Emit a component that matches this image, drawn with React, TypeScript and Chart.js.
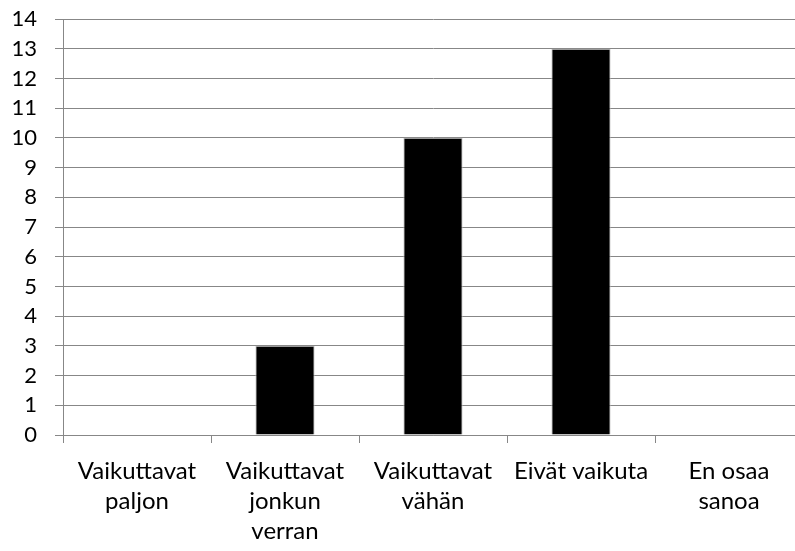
import React, { useEffect, useRef } from "react";
import { Chart, registerables } from "chart.js";

Chart.register(...registerables);

const categories: string[][] = [
  ["Vaikuttavat", "paljon"],
  ["Vaikuttavat", "jonkun", "verran"],
  ["Vaikuttavat", "vähän"],
  ["Eivät vaikuta"],
  ["En osaa", "sanoa"],
];
const values: number[] = [0, 3, 10, 13, 0];
const yMin = 0;
const yMax = 14;
const yStep = 1;

const FONT = "Lato, 'Open Sans', sans-serif";
const GRID = "#878787";

export default function App() {
  const ref = useRef<HTMLCanvasElement | null>(null);
  useEffect(() => {
    if (!ref.current) return;
    const chart = new Chart(ref.current, {
      type: "bar",
      data: {
        labels: categories,
        datasets: [
          {
            data: values,
            backgroundColor: "#000000",
            borderColor: "#bfbfbf",
            borderWidth: 1,
            categoryPercentage: 1,
            barPercentage: 0.4,
          },
        ],
      },
      options: {
        responsive: false,
        animation: false,
        layout: { padding: { top: 19, right: 7, left: 0, bottom: 0 } },
        plugins: { legend: { display: false }, tooltip: { enabled: false } },
        scales: {
          x: {
            grid: {
              offset: true,
              drawOnChartArea: false,
              drawTicks: true,
              tickLength: 8,
              color: GRID,
            },
            border: { display: true, color: GRID },
            ticks: {
              color: "#000",
              font: { family: FONT, size: 24, lineHeight: 1.23 },
              padding: 14,
              maxRotation: 0,
              autoSkip: false,
            },
            afterFit: (s: any) => {
              s.height = 116;
              s.paddingLeft = 0;
              s.paddingRight = 0;
            },
          },
          y: {
            min: yMin,
            max: yMax,
            grid: { color: GRID, tickLength: 8, drawTicks: true },
            border: { display: true, color: GRID },
            ticks: {
              stepSize: yStep,
              autoSkip: false,
              color: "#000",
              font: { family: FONT, size: 22 },
              padding: 18,
            },
            afterFit: (s: any) => {
              s.width = 63;
              s.paddingTop = 0;
              s.paddingBottom = 0;
            },
          },
        },
      },
    });
    return () => chart.destroy();
  }, []);
  return (
    <div
      style={{
        position: "fixed",
        left: 0,
        top: 0,
        width: 795,
        height: 551,
        overflow: "hidden",
        background: "#fff",
      }}
    >
      <canvas ref={ref} width={810} height={551} style={{ display: "block" }} />
    </div>
  );
}
